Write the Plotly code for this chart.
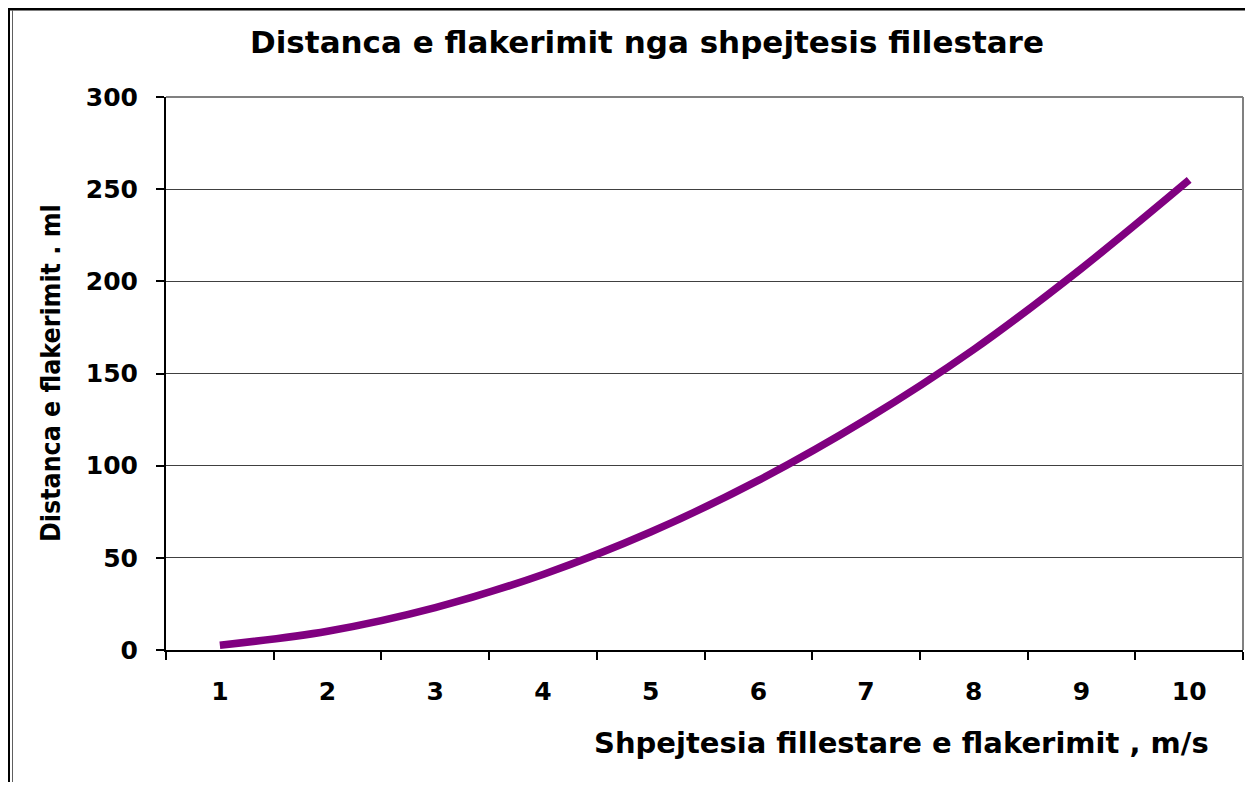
import plotly.graph_objects as go

speed_labels = ["1", "2", "3", "4", "5", "6", "7", "8", "9", "10"]
distance_values = [2.6, 10.2, 23, 41, 64, 92, 125, 163, 207, 255]

# the page puts the figure 8px in from the window corner
OFF = 8
W, H = 1253 - 2 * OFF, 790 - 2 * OFF
L, R, T, B = 166 - OFF, 1243 - OFF, 97 - OFF, 650 - OFF


def px_x(p):
    return (p - OFF - L) / (R - L)


def px_y(p):
    return (B - (p - OFF)) / (B - T)


wide_font = "DejaVu Sans, Verdana, sans-serif"
cond_font = "DejaVu Sans Condensed, DejaVu Sans, sans-serif"

fig = go.Figure()
fig.add_trace(go.Scatter(
    x=speed_labels,
    y=distance_values,
    mode="lines",
    line=dict(color="#800080", width=7.5, shape="spline", smoothing=1),
    showlegend=False,
))

fig.update_layout(
    width=W,
    height=H,
    margin=dict(l=L, r=W - R, t=T, b=H - B),
    paper_bgcolor="white",
    plot_bgcolor="white",
    font=dict(family=wide_font, color="black"),
    xaxis=dict(
        type="category",
        range=[-0.5, 9.5],
        tickson="boundaries",
        ticks="outside",
        ticklen=8,
        tickwidth=1.5,
        tickcolor="black",
        showgrid=False,
        showline=True,
        linecolor="black",
        linewidth=2,
        tickfont=dict(size=25, family=wide_font, weight="bold"),
        ticklabelstandoff=18,
        zeroline=False,
    ),
    yaxis=dict(
        range=[0, 300],
        dtick=50,
        ticks="outside",
        ticklen=8,
        tickwidth=1.5,
        tickcolor="black",
        showgrid=True,
        gridcolor="#404040",
        gridwidth=1.2,
        showline=True,
        linecolor="black",
        linewidth=2,
        tickfont=dict(size=25, family=wide_font, weight="bold"),
        ticklabelstandoff=13,
        zeroline=False,
    ),
    annotations=[
        dict(text="<b>Distanca e flakerimit nga shpejtesis fillestare</b>",
             x=px_x(647), y=px_y(42), xref="paper", yref="paper",
             xanchor="center", yanchor="middle",
             showarrow=False, font=dict(size=31, family=wide_font)),
        dict(text="<b>Shpejtesia fillestare e flakerimit , m/s</b>",
             x=px_x(901), y=px_y(743), xref="paper", yref="paper",
             xanchor="center", yanchor="middle",
             showarrow=False, font=dict(size=29, family=wide_font)),
        dict(text="<b>Distanca e flakerimit . ml</b>",
             x=px_x(50), y=px_y(373), xref="paper", yref="paper",
             xanchor="center", yanchor="middle",
             showarrow=False, textangle=-90, font=dict(size=26.5, family=cond_font)),
    ],
    shapes=[
        # plot area border (top and right, grey)
        dict(type="line", xref="paper", yref="paper", x0=0, x1=1, y0=1, y1=1,
             line=dict(color="#808080", width=2)),
        dict(type="line", xref="paper", yref="paper", x0=1, x1=1, y0=0, y1=1,
             line=dict(color="#808080", width=2)),
        # outer chart frame
        dict(type="line", xref="paper", yref="paper", x0=px_x(7), x1=px_x(1253), y0=px_y(9), y1=px_y(9),
             line=dict(color="black", width=3)),
        dict(type="line", xref="paper", yref="paper", x0=px_x(9), x1=px_x(9), y0=px_y(8), y1=px_y(790),
             line=dict(color="black", width=2)),
        dict(type="line", xref="paper", yref="paper", x0=px_x(12.5), x1=px_x(12.5), y0=px_y(10), y1=px_y(790),
             line=dict(color="#606060", width=1)),
    ],
)

fig.write_html("out.html")
